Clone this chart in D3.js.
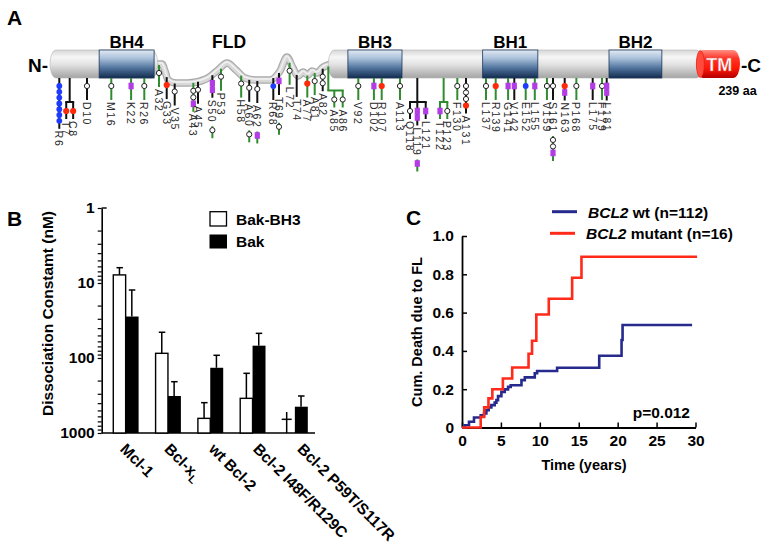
<!DOCTYPE html>
<html><head><meta charset="utf-8">
<script src="https://cdn.jsdelivr.net/npm/d3@7"></script>
<style>
body{margin:0;background:#fff}
svg{display:block}
text{font-family:"Liberation Sans",Arial,Helvetica,sans-serif}
</style>
</head><body>
<svg id="fig" width="764" height="551"></svg>
<script>
// ================= DATA =================
// ---- Panel A: BCL2 mutation sites ----
const siteLabels = ["R6","T7","C8","D10","M16","K22","R26","A32","G33","V35",
  "A43","A45","S50","P53","H58","A60","A62","R68","T69","L72",
  "T74","A77","A81","A82","A85","A86","V92","D102","R107","A113",
  "Q118","L119","L121","T122","P123","F130","A131","L137","R139","G141",
  "V142","E152","L155","V159","S161","N163","P168","L175","F179","L181"];
const siteStemColor = ["k","k","k","k","g","g","g","g","k","k",
  "g","k","k","g","g","k","k","k","k","g",
  "k","g","g","k","g","g","g","g","g","g",
  "k","k","k","g","g","g","k","g","g","g",
  "k","g","g","g","k","k","g","k","g","k"];
// o = open circle, p = purple square, r = red dot, b = blue dot
const siteMarks = ["bbbbbbb","r","r","o","o","p","o","o","r","o",
  "oop","o","pp","o","o","o","o","b","p","o",
  "","r","o","oo","o","o","o","p","r","o",
  "o","pp","p","p","o","o","ooor","o","r","p",
  "p","b","p","o","o","rp","o","p","o","pp"];
const siteTails = {"S50":"o","A60":"o","A62":"p","T69":"o","L119":"p","S161":"oop"};
const groupMembers = [["T7","C8"],["A85","A86"],["Q118","L119","L121"],["T122","P123"]];
const groupTrunkResidue = [7.5, 84, 119, 122.5];
const groupColor = ["k","g","k","g"];
const domainNames = ["BH4","BH3","BH1","BH2"];
const domainStart = [13, 88, 136, 182];
const domainEnd = [30, 114, 156, 205];
const tmStart = 220, proteinLength = 239;

// ---- Panel B: dissociation constants (nM) ----
const catsB = ["Mcl-1","Bcl-xL","wt Bcl-2","Bcl-2 I48F/R129C","Bcl-2 P59T/S117R"];
const seriesB = ["Bak-BH3","Bak"];
const bakBH3Kd = [7.8, 86.6, 638, 345, 657];
const bakBH3SD = [1.55, 41.2, 244, 185, 132];
const bakBH3AsBar = [true, true, true, true, false];
const bakKd = [28, 321, 135, 68.5, 446];
const bakSD = [15.6, 114, 43, 21.6, 125];
const ticksB = [1, 10, 100, 1000];

// ---- Panel C: cumulative death due to FL ----
const wtTimes = [0,0.34,0.9,1.54,2.4,2.83,3.13,3.43,3.77,4.2,4.42,4.63,5.06,5.49,5.92,6.26,7.64,8.07,9.35,9.65,12.22,17.63,20.5,20.63,29.56];
const wtCum   = [0,0.012,0.03,0.052,0.064,0.073,0.09,0.105,0.117,0.13,0.143,0.164,0.186,0.199,0.212,0.221,0.2475,0.262,0.283,0.295,0.312,0.375,0.457,0.535,0.535];
const mutTimes = [0,2.4,2.85,3.4,3.9,5.25,6.45,8.55,9.0,9.55,11.15,14.15,15.35,30.2];
const mutCum   = [0,0.055,0.105,0.152,0.2,0.256,0.313,0.385,0.453,0.59,0.672,0.782,0.892,0.892];
const ticksCx = [0,5,10,15,20,25,30];
const ticksCy = [0,0.2,0.4,0.6,0.8,1.0];

// ================= LAYOUT =================
// non-proportional residue axis of the diagram (residue -> x)
const siteKnotRes = [1,6,10,16,26,32,33,35,45,53,62,68,69,77,81,82,84,85,86,92,107,113,118,119,121,122,123,130,131,137,139,142,152,161,163,181,239];
const siteKnotPx  = [50,59.3,87,111.3,144.3,159,166.7,174.7,198,221,257.3,273.3,279,307.3,314.7,322.7,328.3,334.3,342.7,358.3,381.7,400,410,417.3,425.7,440,447.3,457.3,466,486,495.7,514.3,525.7,553,564.7,606.7,740];
const loopPts = [[152,64],[162,64],[165,71],[168,80],[176,83],[188,83],[206,79],[218,70],[227,63],[236,70],[245,78],[255,80],[270,80],[280,71],[287,57],[293,68],[298,76],[303,72],[308,75],[312,71],[317,73],[322,68],[332,64]];

const svg = d3.select("#fig");
const defs = svg.append("defs");
function vgrad(id, stops){
  const g = defs.append("linearGradient").attr("id",id).attr("x1",0).attr("y1",0).attr("x2",0).attr("y2",1);
  stops.forEach(([o,c])=>g.append("stop").attr("offset",o).attr("stop-color",c));
}
vgrad("gGrey",[[0,"#d6d6d6"],[0.25,"#f6f6f6"],[0.5,"#e4e4e4"],[1,"#a4a4a4"]]);
vgrad("gBlue",[[0,"#e2eaf3"],[0.3,"#a9c0da"],[0.65,"#4f729c"],[1,"#132c4f"]]);
vgrad("gRed",[[0,"#ff8f85"],[0.3,"#ff3426"],[0.65,"#ff1808"],[1,"#b40000"]]);

const BOLD = "bold";
function label(x,y,txt,size,opts={}){
  const t = svg.append("text").attr("x",x).attr("y",y).attr("font-size",size).attr("font-weight",opts.weight||BOLD)
    .attr("text-anchor",opts.anchor||"start").attr("fill",opts.fill||"#000").text(txt);
  if(opts.baseline) t.attr("dominant-baseline",opts.baseline);
  return t;
}

// ================= PANEL A =================
const gA = svg.append("g");
const xs = d3.scaleLinear().domain(siteKnotRes).range(siteKnotPx);
const loopFn = d3.scaleLinear().domain(loopPts.map(p=>p[0])).range(loopPts.map(p=>p[1])).clamp(true);
const barTop = 50, barBot = 78;
const seg1End = xs(31.5), seg2Start = xs(84);

label(7,25,"A",21);
label(28,72,"N-",19);
label(741,72,"-C",19);
label(737.5,95,"239 aa",12.5,{anchor:"middle"});

// FLD loop
const loopLine = d3.line().curve(d3.curveMonotoneX);
gA.append("path").attr("d",loopLine(loopPts)).attr("fill","none").attr("stroke","#a8a8a8").attr("stroke-width",7.5).attr("stroke-linecap","round");
gA.append("path").attr("d",loopLine(loopPts)).attr("fill","none").attr("stroke","#d8d8d8").attr("stroke-width",5.2);
gA.append("path").attr("d",loopLine(loopPts)).attr("fill","none").attr("stroke","#f2f2f2").attr("stroke-width",1.4).attr("transform","translate(0,-1)");

// bar segments
gA.append("rect").attr("x",xs(1)).attr("y",barTop).attr("width",seg1End-xs(1)).attr("height",barBot-barTop)
  .attr("rx",6).attr("ry",14).attr("fill","url(#gGrey)").attr("stroke","#b5b5b5").attr("stroke-width",0.6);
gA.append("rect").attr("x",seg2Start).attr("y",barTop).attr("width",xs(tmStart)-seg2Start+6).attr("height",barBot-barTop)
  .attr("rx",6).attr("ry",14).attr("fill","url(#gGrey)").attr("stroke","#b5b5b5").attr("stroke-width",0.6);
// TM
gA.append("rect").attr("x",xs(tmStart)).attr("y",barTop).attr("width",xs(proteinLength)-xs(tmStart)).attr("height",barBot-barTop)
  .attr("rx",7).attr("ry",14).attr("fill","url(#gRed)");
gA.append("ellipse").attr("cx",xs(tmStart)+4).attr("cy",(barTop+barBot)/2).attr("rx",4).attr("ry",13.5).attr("fill","#ff4a3c").attr("stroke","#d81a10").attr("stroke-width",0.6);
gA.append("text").attr("x",(xs(tmStart)+xs(proteinLength))/2+1).attr("y",71).attr("text-anchor","middle")
  .attr("font-size",18).attr("font-weight","bold").attr("fill","#fff").attr("stroke","#e06060").attr("stroke-width",0.4).text("TM");

// domains
domainNames.forEach((n,i)=>{
  const x1 = xs(domainStart[i]), x2 = xs(domainEnd[i]);
  gA.append("rect").attr("x",x1).attr("y",barTop).attr("width",x2-x1).attr("height",barBot-barTop)
    .attr("fill","url(#gBlue)").attr("stroke","#1d3557").attr("stroke-width",0.8);
  label((x1+x2)/2,48,n,17,{anchor:"middle"});
});
label(xs(55),48,"FLD",17.5,{anchor:"middle"});

// lollipops
const stemCol = {g:"#2f8c2f", k:"#111"};
function stemTopAt(x){ return (x > seg1End-1 && x <= seg2Start+1) ? loopFn(x)+1 : barBot; }
function marker(m,x,y){
  if(m==="o") gA.append("circle").attr("cx",x).attr("cy",y).attr("r",2.6).attr("fill","#fff").attr("stroke","#222").attr("stroke-width",1);
  else if(m==="p") gA.append("rect").attr("x",x-2.6).attr("y",y-3.3).attr("width",5.2).attr("height",6.6).attr("fill","#b23ce6");
  else if(m==="r") gA.append("circle").attr("cx",x).attr("cy",y).attr("r",3.1).attr("fill","#ff2a0a");
  else if(m==="b") gA.append("circle").attr("cx",x).attr("cy",y).attr("r",2.9).attr("fill","#1e3cff");
}
function column(x, top, firstMark, minLen, marks, col, txt, tail){
  const step = marks.length > 4 ? 5.8 : 6.5;
  const ys = marks.split("").map((m,i)=>firstMark + i*step);
  const end = Math.max(ys.length ? ys[ys.length-1]+8 : 0, top+minLen);
  gA.append("line").attr("x1",x).attr("x2",x).attr("y1",top).attr("y2",end).attr("stroke",stemCol[col]).attr("stroke-width",2);
  marks.split("").forEach((m,i)=>marker(m,x,ys[i]));
  const t = gA.append("text").attr("transform",`translate(${x},${end+2}) rotate(90)`).attr("dominant-baseline","central")
    .attr("font-size",10.5).attr("letter-spacing",1.6).attr("fill","#2a2a2a").text(txt);
  if(tail){
    const len = t.node().getComputedTextLength();
    const t0 = end + 2 + len + 3;
    const tys = tail.split("").map((m,i)=>t0 + 4 + i*6.5);
    const tend = tys[tys.length-1] + 8;
    gA.append("line").attr("x1",x).attr("x2",x).attr("y1",t0).attr("y2",tend).attr("stroke",stemCol.g).attr("stroke-width",2);
    tail.split("").forEach((m,i)=>marker(m,x,tys[i]));
  }
}
const memberOf = new Map();
groupMembers.forEach((mem,gi)=>mem.forEach(l=>memberOf.set(l,gi)));
siteLabels.forEach((lab,i)=>{
  if(memberOf.has(lab)) return;
  const x = xs(+lab.slice(1));
  const top = stemTopAt(x);
  column(x, top, top+8, 22, siteMarks[i], siteStemColor[i], lab, siteTails[lab]);
});
groupMembers.forEach((mem,gi)=>{
  const tx = xs(groupTrunkResidue[gi]);
  const top = stemTopAt(tx);
  const by = top + 24;
  const cxs = mem.map(l=>xs(+l.slice(1)));
  const col = stemCol[groupColor[gi]];
  gA.append("line").attr("x1",tx).attr("x2",tx).attr("y1",top).attr("y2",by).attr("stroke",col).attr("stroke-width",2);
  gA.append("line").attr("x1",Math.min(tx,...cxs)-1).attr("x2",Math.max(tx,...cxs)+1).attr("y1",by).attr("y2",by).attr("stroke",col).attr("stroke-width",2);
  mem.forEach((l,k)=>{
    const i = siteLabels.indexOf(l);
    column(cxs[k], by, by+9, 16, siteMarks[i], siteStemColor[i], l, siteTails[l]);
  });
});

// ================= PANEL B =================
label(7,226,"B",21);
const yB = d3.scaleLog().domain([1,1000]).range([208,433]);
const x0B = d3.scaleBand().domain(catsB).range([100.6,319.9]).paddingInner(0.416).paddingOuter(0.3);
const x1B = d3.scaleBand().domain(seriesB).range([0,x0B.bandwidth()]);
const axisLeftB = 101.7;
const gB = svg.append("g");
const minorB = [];
[1,10,100].forEach(d=>{ for(let k=2;k<10;k++) minorB.push(d*k); });
const axB = gB.append("g").attr("transform",`translate(${axisLeftB},0)`)
  .call(d3.axisLeft(yB).tickValues(ticksB).tickFormat(d3.format("d")).tickSize(4).tickSizeOuter(0).tickPadding(3));
gB.append("g").attr("transform",`translate(${axisLeftB},0)`)
  .call(d3.axisLeft(yB).tickValues(minorB).tickFormat("").tickSize(4).tickSizeOuter(0))
  .call(g=>g.select(".domain").remove());
axB.selectAll("text").attr("font-size",15.5).attr("font-weight","bold").attr("fill","#000").style("font-family",'"Liberation Sans",Arial,sans-serif');
gB.selectAll(".domain").attr("stroke-width",1.6);
gB.selectAll(".tick line").attr("stroke-width",1.2);
gB.append("line").attr("x1",axisLeftB).attr("x2",axisLeftB+5).attr("y1",yB(1)).attr("y2",yB(1)).attr("stroke","#000").attr("stroke-width",1.4);
gB.append("line").attr("x1",axisLeftB).attr("x2",315).attr("y1",yB(1000)).attr("y2",yB(1000)).attr("stroke","#000").attr("stroke-width",1.6);

function errBar(cx, v, sd){
  const y1 = yB(v), y2 = yB(v-sd);
  gB.append("line").attr("x1",cx).attr("x2",cx).attr("y1",y1).attr("y2",y2).attr("stroke","#000").attr("stroke-width",1.5);
  gB.append("line").attr("x1",cx-3).attr("x2",cx+3.5).attr("y1",y2).attr("y2",y2).attr("stroke","#000").attr("stroke-width",1.5);
}
catsB.forEach((c,i)=>{
  const bx = x0B(c)+x1B("Bak-BH3"), bw = x1B.bandwidth();
  if(bakBH3AsBar[i]){
    errBar(bx+bw/2, bakBH3Kd[i], bakBH3SD[i]);
    gB.append("rect").attr("x",bx).attr("y",yB(bakBH3Kd[i])).attr("width",bw).attr("height",yB(1000)-yB(bakBH3Kd[i]))
      .attr("fill","#fff").attr("stroke","#000").attr("stroke-width",1.4);
  } else {
    const cx = bx+bw/2-2;
    gB.append("line").attr("x1",cx).attr("x2",cx).attr("y1",yB(bakBH3Kd[i]-bakBH3SD[i])).attr("y2",yB(1000)).attr("stroke","#000").attr("stroke-width",1.5);
    gB.append("line").attr("x1",cx-5).attr("x2",cx+5).attr("y1",yB(bakBH3Kd[i])).attr("y2",yB(bakBH3Kd[i])).attr("stroke","#000").attr("stroke-width",1.5);
  }
  const kx = x0B(c)+x1B("Bak");
  errBar(kx+bw/2, bakKd[i], bakSD[i]);
  gB.append("rect").attr("x",kx).attr("y",yB(bakKd[i])).attr("width",bw+0.6).attr("height",yB(1000)-yB(bakKd[i])).attr("fill","#000");
});
// category labels
const xLabB = d3.scalePoint().domain(catsB).range([x0B(catsB[0])+6, x0B(catsB[catsB.length-1])+14]);
catsB.forEach(c=>{
  const t = gB.append("text").attr("transform",`translate(${xLabB(c)},450) rotate(45)`).attr("font-size",15.5).attr("font-weight","bold");
  if(c==="Bcl-xL"){ t.append("tspan").text("Bcl-x"); t.append("tspan").attr("font-size",11).attr("dy",4).text("L"); }
  else t.text(c);
});
// legend B
gB.append("rect").attr("x",210).attr("y",211.7).attr("width",16.5).attr("height",14.3).attr("fill","#fff").attr("stroke","#000").attr("stroke-width",1.3);
gB.append("rect").attr("x",209.5).attr("y",234.5).attr("width",17.5).attr("height",14).attr("fill","#000");
label(236,219,seriesB[0],15.5,{baseline:"central"});
label(236,241.7,seriesB[1],15.5,{baseline:"central"});
svg.append("text").attr("transform","translate(47.5,313.5) rotate(-90)").attr("text-anchor","middle").attr("dominant-baseline","central")
  .attr("font-size",15.5).attr("font-weight","bold").text("Dissociation Constamt (nM)");

// ================= PANEL C =================
label(406,225,"C",21);
const xC = d3.scaleLinear().domain([0,30]).range([462,695.5]);
const yC = d3.scaleLinear().domain([0,1]).range([427.5,236]);
const gC = svg.append("g");
const axCy = gC.append("g").attr("transform",`translate(${xC(0)},0)`)
  .call(d3.axisLeft(yC).tickValues(ticksCy).tickFormat(d=>d===0?"0":d.toFixed(1)).tickSize(-5).tickSizeOuter(0).tickPadding(8));
const axCx = gC.append("g").attr("transform",`translate(0,${yC(0)})`)
  .call(d3.axisBottom(xC).tickValues(ticksCx).tickFormat(d3.format("d")).tickSize(-5).tickSizeOuter(0).tickPadding(7));
gC.selectAll(".domain").attr("stroke-width",1.8);
gC.selectAll(".tick line").attr("stroke-width",1.5);
gC.selectAll("text").attr("font-size",15.5).attr("font-weight","bold").attr("fill","#000").style("font-family",'"Liberation Sans",Arial,sans-serif');

const step = d3.line().x(d=>xC(d[0])).y(d=>yC(d[1])).curve(d3.curveStepAfter);
gC.append("path").attr("d",step(wtTimes.map((t,i)=>[t,wtCum[i]]))).attr("fill","none").attr("stroke","#262a8c").attr("stroke-width",2.6);
gC.append("path").attr("d",step(mutTimes.map((t,i)=>[t,mutCum[i]]))).attr("fill","none").attr("stroke","#ff2a1a").attr("stroke-width",2.6);

// legend C
gC.append("line").attr("x1",552).attr("x2",577).attr("y1",211.7).attr("y2",211.7).attr("stroke","#262a8c").attr("stroke-width",3);
gC.append("line").attr("x1",550).attr("x2",575).attr("y1",233.3).attr("y2",233.3).attr("stroke","#ff2a1a").attr("stroke-width",3);
const l1 = gC.append("text").attr("x",588).attr("y",211.7).attr("dominant-baseline","central").attr("font-size",15.5).attr("font-weight","bold");
l1.append("tspan").attr("font-style","italic").text("BCL2");
l1.append("tspan").text(" wt (n=112)");
const l2 = gC.append("text").attr("x",586).attr("y",233.3).attr("dominant-baseline","central").attr("font-size",15.5).attr("font-weight","bold");
l2.append("tspan").attr("font-style","italic").text("BCL2");
l2.append("tspan").text(" mutant (n=16)");
label(690,412,"p=0.012",15.5,{anchor:"end",baseline:"central"});
svg.append("text").attr("transform","translate(416.5,332) rotate(-90)").attr("text-anchor","middle").attr("dominant-baseline","central")
  .attr("font-size",14.5).attr("font-weight","bold").text("Cum. Death due to FL");
label(584,470,"Time (years)",14.5,{anchor:"middle"});
</script>
</body></html>
